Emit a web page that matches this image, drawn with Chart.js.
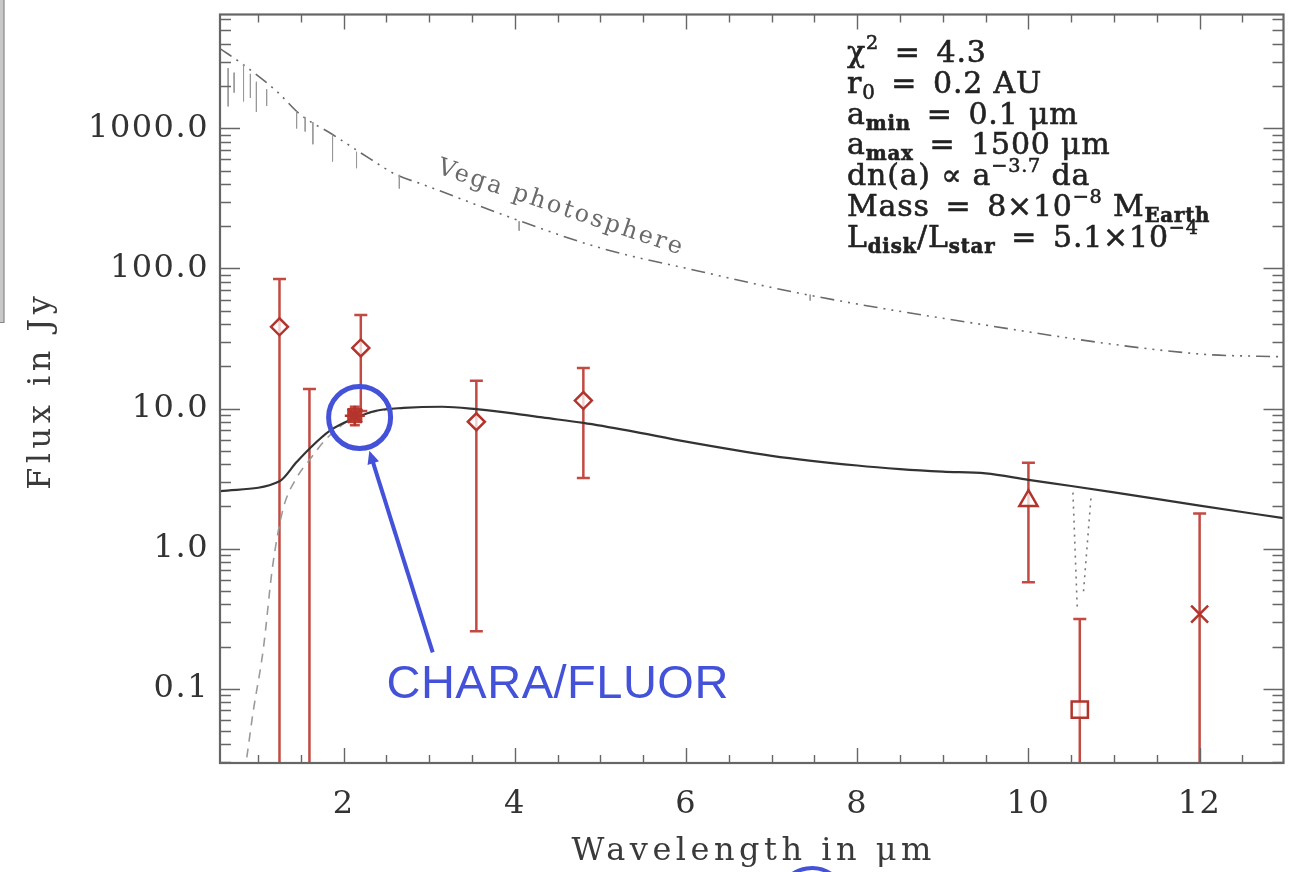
<!DOCTYPE html>
<html><head><meta charset="utf-8">
<script src="https://cdn.jsdelivr.net/npm/chart.js@4.4.1/dist/chart.umd.min.js"></script>
<style>html,body{margin:0;padding:0;background:#fff;overflow:hidden}canvas{display:block}</style>
</head><body>
<canvas id="c" width="1298" height="872"></canvas>
<script>
// ---------- data ----------
const modelWl   = [0.555, 1.25, 1.45, 1.6, 1.84, 2.1, 2.38, 2.7, 3.15, 3.55, 4.0, 4.32, 4.8, 5.33, 6.0, 7.0, 8.0, 8.5, 9.0, 9.5, 10.0, 10.5, 11.0, 12.0, 12.98];
const modelFlux = [2.57, 3.03, 4.15, 5.17, 6.95, 8.4, 9.65, 10.1, 10.3, 9.9, 9.2, 8.64, 7.9, 6.95, 5.8, 4.6, 3.92, 3.7, 3.55, 3.45, 3.1, 2.8, 2.52, 2.03, 1.65];
const diskWl    = [0.84, 0.87, 0.94, 1.06, 1.17, 1.29, 1.45, 1.6, 1.8, 2.03, 2.3, 2.6];
const diskFlux  = [0.025, 0.033, 0.067, 0.19, 0.75, 1.9, 3.2, 4.3, 6.1, 8.0, 9.3, 10.0];
const photWl    = [0.555, 0.824, 1.22, 1.49, 1.87, 2.3, 2.61, 2.92, 4.0, 5.0, 6.14, 7.31, 9.05, 11.97, 12.98];
const photFlux  = [3715, 2857, 1835, 1259, 904, 611, 468, 399, 225, 140, 96, 66.8, 43.6, 24.6, 23.4];
const lineWl     = [0.65, 0.72, 0.83, 0.91, 0.98, 1.1, 1.45, 1.55, 1.64, 1.87, 2.15, 2.65, 4.05, 7.45];
const lineTop    = [2690, 2500, 2860, 2450, 2150, 1900, 1320, 1200, 1110, 900, 680, 466, 217, 65];
const lineBottom = [1436, 1800, 1560, 1650, 1310, 1450, 1000, 950, 770, 580, 520, 372, 186, 59];
const obsWl      = [1.25, 1.6, 2.2, 3.55, 4.8, 10.0, 10.6, 12.0];
const obsFlux    = [38.3, null, 27.1, 8.05, 11.4, 2.2, 0.071, 0.341];
const obsErrLow  = [0.01, 0.01, 9.6, 0.257, 3.2, 0.575, 0.01, 0.01];
const obsErrHigh = [84, 13.8, 46.6, 15.8, 19.5, 4.1, 0.315, 1.78];
const obsMarker  = ['rectRot', 'circle', 'rectRot', 'rectRot', 'rectRot', 'triangle', 'rect', 'crossRot'];
const charaWl      = [2.13];
const charaFlux    = [8.9];
const charaErrLow  = [7.6];
const charaErrHigh = [10.3];
const filterWlA   = [10.52, 10.57];
const filterFluxA = [2.51, 0.384];
const filterWlB   = [10.73, 10.64];
const filterFluxB = [2.28, 0.465];
const xTickValues = [2, 4, 6, 8, 10, 12];
const yTickValues = [0.1, 1, 10, 100, 1000];
const xTitle = 'Wavelength in μm';
const yTitle = 'Flux in Jy';
const photLabel = 'Vega photosphere';
const calloutLabel = 'CHARA/FLUOR';
const EQ = '\u2002=\u2002';
const fitText = [
  [{t:'χ'},{t:'2',sup:1},{t:EQ + '4.3'}],
  [{t:'r'},{t:'0',sub:1,light:1},{t:EQ + '0.2 AU'}],
  [{t:'a'},{t:'min',sub:1},{t:EQ + '0.1 μm'}],
  [{t:'a'},{t:'max',sub:1},{t:EQ + '1500 μm'}],
  [{t:'dn(a) ∝ a'},{t:'−3.7',sup:1},{t:' da'}],
  [{t:'Mass' + EQ + '8×10'},{t:'−8',sup:1},{t:' M'},{t:'Earth',sub:1}],
  [{t:'L'},{t:'disk',sub:1},{t:'/L'},{t:'star',sub:1},{t:EQ + '5.1×10'},{t:'−4',sup:1}]
];

// ---------- styles ----------
const RED = '#b3342c', BAR = '#c24a42', BLUE = '#4352d8';
const SERIF = '"DejaVu Serif", serif';
const markerSize = {rectRot: 8.5, circle: 0, triangle: 10.5, rect: 11.5, crossRot: 12};
const pts = (xs, ys) => xs.map((x, i) => ({x, y: ys[i]}));
const spikeData = [];
lineWl.forEach((w, i) => spikeData.push({x: w, y: lineTop[i]}, {x: w, y: lineBottom[i]}, {x: w, y: null}));

const errorBars = {
  id: 'errorBars',
  beforeDatasetsDraw(chart) {
    const {ctx, chartArea: a, scales: {x, y}} = chart;
    ctx.save();
    ctx.beginPath(); ctx.rect(a.left, a.top, a.right - a.left, a.bottom - a.top); ctx.clip();
    ctx.strokeStyle = BAR; ctx.lineWidth = 2.5;
    const draw = (wl, lo, hi, cap) => {
      wl.forEach((w, i) => {
        const px = x.getPixelForValue(w), yt = y.getPixelForValue(hi[i]), yb = y.getPixelForValue(lo[i]);
        ctx.beginPath(); ctx.moveTo(px, yt); ctx.lineTo(px, yb);
        ctx.moveTo(px - cap, yt); ctx.lineTo(px + cap, yt);
        if (yb < a.bottom) { ctx.moveTo(px - cap, yb); ctx.lineTo(px + cap, yb); }
        ctx.stroke();
      });
    };
    draw(obsWl, obsErrLow, obsErrHigh, 6.5);
    draw(charaWl, charaErrLow, charaErrHigh, 5);
    ctx.restore();
  }
};

function boldText(ctx, s, x, y, w) {
  ctx.fillText(s, x, y);
  ctx.lineWidth = w; ctx.strokeStyle = ctx.fillStyle; ctx.strokeText(s, x, y);
}

const decor = {
  id: 'decor',
  beforeDraw(chart) { chart.ctx.letterSpacing = '1.5px'; },
  afterDraw(chart) {
    const {ctx, chartArea: a, scales: {x, y}} = chart;
    ctx.save();
    ctx.letterSpacing = '0px';
    // left edge artifact
    ctx.fillStyle = '#c8c8c8'; ctx.fillRect(0, 0, 4, 323);
    ctx.strokeStyle = '#888'; ctx.lineWidth = 1.2;
    ctx.beginPath(); ctx.moveTo(4, 0); ctx.lineTo(4, 322.5); ctx.lineTo(0, 322.5); ctx.stroke();
    // frame
    ctx.strokeStyle = '#666'; ctx.lineWidth = 2.2;
    ctx.strokeRect(a.left, a.top, a.right - a.left, a.bottom - a.top);
    // ticks
    ctx.lineWidth = 1.4; ctx.strokeStyle = '#666';
    ctx.beginPath();
    for (let d = -2; d <= 3; d++) for (let m = 1; m <= 9; m++) {
      const v = m * Math.pow(10, d);
      if (v < y.min || v > y.max) continue;
      const py = Math.round(y.getPixelForValue(v)) + 0.5, len = m === 1 ? 20 : 11;
      ctx.moveTo(a.left, py); ctx.lineTo(a.left + len, py);
      ctx.moveTo(a.right, py); ctx.lineTo(a.right - len, py);
    }
    for (let v = 1; v <= 12.5; v += 0.5) {
      const px = Math.round(x.getPixelForValue(v)) + 0.5, len = v % 2 === 0 ? 15 : 8;
      ctx.moveTo(px, a.bottom); ctx.lineTo(px, a.bottom - len);
      ctx.moveTo(px, a.top); ctx.lineTo(px, a.top + len);
    }
    ctx.stroke();
    // axis titles
    ctx.fillStyle = '#3a3a3a'; ctx.font = '32px ' + SERIF;
    ctx.letterSpacing = '4.5px'; ctx.textAlign = 'center'; ctx.textBaseline = 'alphabetic';
    ctx.fillText(xTitle, (a.left + a.right) / 2 + 2, 860);
    ctx.save(); ctx.translate(50, (a.top + a.bottom) / 2 + 2); ctx.rotate(-Math.PI / 2);
    ctx.fillText(yTitle, 0, 0); ctx.restore();
    // photosphere label
    ctx.save();
    ctx.translate(x.getPixelForValue(4.54), y.getPixelForValue(269));
    ctx.rotate(18.5 * Math.PI / 180);
    ctx.fillStyle = '#6a6a6a'; ctx.font = '24px ' + SERIF; ctx.letterSpacing = '2.5px';
    ctx.textBaseline = 'middle'; ctx.fillText(photLabel, 0, 0);
    ctx.restore();
    // fit parameters block
    ctx.fillStyle = '#222'; ctx.textAlign = 'left'; ctx.textBaseline = 'alphabetic';
    ctx.letterSpacing = '0.8px';
    const base = 30;
    fitText.forEach((parts, li) => {
      let tx = 847; const ty = 62 + li * 30.8;
      parts.forEach(p => {
        let size = base, dy = 0, weight = 'normal';
        if (p.sub) { size = base * 0.66; dy = 6; weight = p.light ? 'normal' : 'bold'; }
        if (p.sup) { size = base * 0.64; dy = -13; }
        ctx.font = weight + ' ' + size + 'px ' + SERIF;
        boldText(ctx, p.t, tx, ty + dy, 0.6);
        tx += ctx.measureText(p.t).width;
      });
    });
    // CHARA/FLUOR callout
    const cx = x.getPixelForValue(2.186), cy = y.getPixelForValue(8.64);
    ctx.strokeStyle = BLUE; ctx.lineWidth = 5;
    ctx.beginPath(); ctx.arc(cx, cy, 31, 0, Math.PI * 2); ctx.stroke();
    const tx0 = x.getPixelForValue(3.04), ty0 = y.getPixelForValue(0.182);
    const tx1 = x.getPixelForValue(2.30), ty1 = y.getPixelForValue(5.0);
    const ang = Math.atan2(ty1 - ty0, tx1 - tx0);
    ctx.lineWidth = 4;
    ctx.beginPath(); ctx.moveTo(tx0, ty0); ctx.lineTo(tx1 - 8 * Math.cos(ang), ty1 - 8 * Math.sin(ang)); ctx.stroke();
    ctx.fillStyle = BLUE;
    ctx.beginPath(); ctx.moveTo(tx1, ty1);
    ctx.lineTo(tx1 - 13 * Math.cos(ang) + 6 * Math.sin(ang), ty1 - 13 * Math.sin(ang) - 6 * Math.cos(ang));
    ctx.lineTo(tx1 - 13 * Math.cos(ang) - 6 * Math.sin(ang), ty1 - 13 * Math.sin(ang) + 6 * Math.cos(ang));
    ctx.closePath(); ctx.fill();
    ctx.letterSpacing = '0.5px';
    ctx.font = '47px "Liberation Sans", Arial, sans-serif';
    ctx.fillText(calloutLabel, x.getPixelForValue(2.50), y.getPixelForValue(0.0857));
    // cropped blue arc at bottom edge
    ctx.lineWidth = 4;
    ctx.beginPath(); ctx.arc(812, 902, 34, Math.PI * 1.2, Math.PI * 1.8); ctx.stroke();
    ctx.restore();
  }
};

new Chart(document.getElementById('c'), {
  type: 'scatter',
  data: {
    datasets: [
      {label: 'CHARA cross', data: pts(charaWl, charaFlux), pointStyle: 'star', pointRadius: 10, borderColor: RED, pointBorderWidth: 2.5, showLine: false},
      {label: 'CHARA/FLUOR', data: pts(charaWl, charaFlux), pointStyle: 'rect', pointRadius: 10, borderColor: RED, backgroundColor: '#c0392b', showLine: false},
      {label: 'Photometry', data: pts(obsWl, obsFlux), showLine: false,
       pointStyle: obsMarker, pointRadius: obsMarker.map(m => markerSize[m]),
       borderColor: RED, backgroundColor: 'rgba(255,255,255,0.75)', pointBorderWidth: 2.5},
      {label: 'Model', data: pts(modelWl, modelFlux), showLine: true, borderColor: '#333', borderWidth: 2.2, pointRadius: 0, cubicInterpolationMode: 'monotone'},
      {label: 'Disk', data: pts(diskWl, diskFlux), showLine: true, borderColor: '#9a9a9a', borderWidth: 1.6, borderDash: [9, 7], pointRadius: 0, cubicInterpolationMode: 'monotone'},
      {label: 'Filter A', data: pts(filterWlA, filterFluxA), showLine: true, borderColor: '#777', borderWidth: 1.6, borderDash: [2, 5], pointRadius: 0},
      {label: 'Filter B', data: pts(filterWlB, filterFluxB), showLine: true, borderColor: '#777', borderWidth: 1.6, borderDash: [2, 5], pointRadius: 0},
      {label: 'Lines', data: spikeData, showLine: true, spanGaps: false, borderColor: '#999', borderWidth: 1, pointRadius: 0},
      {label: 'Photosphere', data: pts(photWl, photFlux), showLine: true, borderColor: '#6a6a6a', borderWidth: 1.6, borderDash: [14, 6, 2, 6, 2, 6, 2, 6], pointRadius: 0, cubicInterpolationMode: 'monotone'}
    ]
  },
  options: {
    responsive: false, animation: false, devicePixelRatio: 1,
    layout: {padding: {top: 13, right: 12, left: 0, bottom: 0}},
    plugins: {legend: {display: false}, tooltip: {enabled: false}},
    scales: {
      x: {
        type: 'linear', min: 0.555, max: 12.98,
        grid: {display: false, drawTicks: false}, border: {display: false},
        ticks: {font: {family: SERIF, size: 32}, color: '#333', padding: 22, autoSkip: false, maxRotation: 0},
        afterBuildTicks: s => { s.ticks = xTickValues.map(v => ({value: v})); },
        afterFit: s => { s.height = 109; s.paddingLeft = 0; s.paddingRight = 0; }
      },
      y: {
        type: 'logarithmic', min: 0.0295, max: 6500,
        grid: {display: false, drawTicks: false}, border: {display: false},
        ticks: {font: {family: SERIF, size: 32}, color: '#333', padding: 11, autoSkip: false,
                callback: v => v >= 1 ? Number(v).toFixed(1) : String(v)},
        afterBuildTicks: s => { s.ticks = yTickValues.map(v => ({value: v})); },
        afterFit: s => { s.width = 220; s.paddingTop = 0; s.paddingBottom = 0; }
      }
    }
  },
  plugins: [errorBars, decor]
});
</script>
</body></html>
